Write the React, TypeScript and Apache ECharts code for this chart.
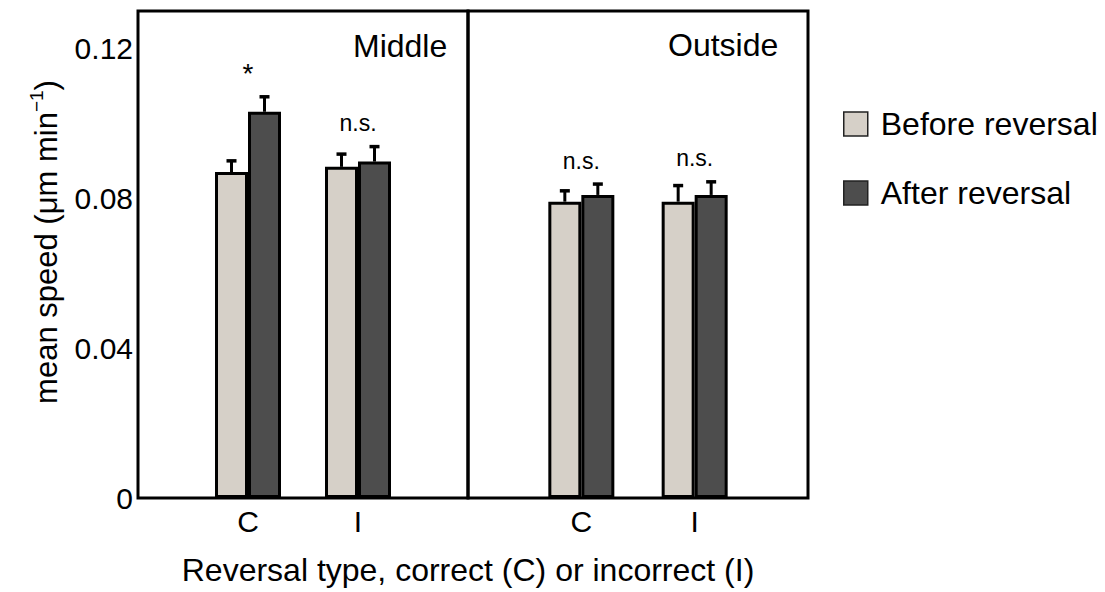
import React, { useEffect, useRef } from 'react';
import * as echarts from 'echarts';

const categories = ['', 'C', 'I', ''];
const panels = ['Middle', 'Outside'];
const seriesNames = ['Before reversal', 'After reversal'];
const yTicks = [0, 0.04, 0.08, 0.12];

const middleBefore = [0.087, 0.0884];
const middleBeforeErr = [0.003, 0.0034];
const middleAfter = [0.1031, 0.0898];
const middleAfterErr = [0.004, 0.004];
const outsideBefore = [0.0791, 0.0791];
const outsideBeforeErr = [0.0029, 0.0043];
const outsideAfter = [0.0809, 0.0809];
const outsideAfterErr = [0.0029, 0.0035];
const sigMiddle = ['*', 'n.s.'];
const sigOutside = ['n.s.', 'n.s.'];

const FONT = '"Liberation Sans", Arial, Helvetica, sans-serif';
const BEFORE_COLOR = '#d6d0c8';
const AFTER_COLOR = '#4d4d4d';

function padData(arr: number[]) {
  return [null, ...arr, null];
}

function errData(vals: number[], errs: number[]) {
  return vals.map((v, i) => [i + 1, v, errs[i]]);
}

function errSeries(name: string, gridIdx: number, vals: number[], errs: number[], offset: number) {
  return {
    type: 'custom',
    name: name + ' err',
    xAxisIndex: gridIdx,
    yAxisIndex: gridIdx,
    z: 5,
    silent: true,
    encode: { x: 0, y: 1 },
    data: errData(vals, errs),
    renderItem: (params: any, api: any) => {
      const x = api.value(0);
      const y = api.value(1);
      const e = api.value(2);
      const p0 = api.coord([x, y]);
      const p1 = api.coord([x, y + e]);
      const cx = p0[0] + offset;
      return {
        type: 'group',
        children: [
          { type: 'line', shape: { x1: cx, y1: p0[1], x2: cx, y2: p1[1] }, style: { stroke: '#000', lineWidth: 3 } },
          { type: 'line', shape: { x1: cx - 5, y1: p1[1], x2: cx + 5, y2: p1[1] }, style: { stroke: '#000', lineWidth: 3.5 } },
        ],
      };
    },
  };
}

function sigSeries(gridIdx: number, labels: string[], b: number[], be: number[], a: number[], ae: number[]) {
  const data = labels.map((_, i) => [i + 1, Math.max(b[i] + be[i], a[i] + ae[i])]);
  return {
    type: 'custom',
    name: 'sig' + gridIdx,
    xAxisIndex: gridIdx,
    yAxisIndex: gridIdx,
    z: 6,
    silent: true,
    encode: { x: 0, y: 1 },
    data,
    renderItem: (params: any, api: any) => {
      const p = api.coord([api.value(0), api.value(1)]);
      const label = labels[params.dataIndex];
      const star = label === '*';
      return {
        type: 'text',
        x: p[0],
        y: p[1] - (star ? 9 : 12),
        style: {
          text: label,
          fontSize: star ? 28 : 23,
          fontFamily: FONT,
          fill: '#000',
          align: 'center',
          verticalAlign: 'bottom',
        },
      };
    },
  };
}

function barSeries(name: string, gridIdx: number, vals: number[], color: string) {
  return {
    type: 'bar',
    name,
    xAxisIndex: gridIdx,
    yAxisIndex: gridIdx,
    barWidth: 33,
    barGap: '0%',
    data: padData(vals),
    itemStyle: { color, borderColor: '#000', borderWidth: 3 },
  };
}

export default function App() {
  const ref = useRef<HTMLDivElement>(null);
  useEffect(() => {
    if (!ref.current) return;
    const chart = echarts.init(ref.current, null, { renderer: 'svg' });
    const grids = [
      { left: 138, top: 11, width: 330, height: 487 },
      { left: 468, top: 11, width: 340, height: 487 },
    ];
    const option: any = {
      animation: false,
      backgroundColor: '#fff',
      textStyle: { fontFamily: FONT },
      grid: grids.map((g) => ({ ...g, show: true, borderColor: '#000', borderWidth: 3, backgroundColor: 'transparent' })),
      xAxis: grids.map((_, i) => ({
        type: 'category',
        gridIndex: i,
        data: categories,
        boundaryGap: false,
        axisLine: { show: false },
        axisTick: { show: false },
        splitLine: { show: false },
        axisLabel: { fontSize: 30, color: '#000', margin: 8, fontFamily: FONT, interval: 0 },
      })),
      yAxis: grids.map((_, i) => ({
        type: 'value',
        gridIndex: i,
        min: 0,
        max: 0.13,
        interval: 0.04,
        axisLine: { show: false },
        axisTick: { show: false },
        splitLine: { show: false },
        axisLabel: {
          show: i === 0,
          fontSize: 30,
          color: '#000',
          margin: 5,
          fontFamily: FONT,
          showMaxLabel: false,
          formatter: (v: number) => (yTicks.some((t) => Math.abs(t - v) < 1e-9) ? String(+v.toFixed(2)) : ''),
        },
      })),
      legend: {
        data: seriesNames,
        orient: 'vertical',
        left: 838,
        top: 103,
        itemWidth: 24,
        itemHeight: 24,
        itemGap: 37,
        icon: 'rect',
        itemStyle: { borderColor: '#222', borderWidth: 1.5 },
        textStyle: { fontSize: 32, color: '#000', fontFamily: FONT, padding: [0, 0, 0, 8] },
        selectedMode: false,
      },
      graphic: [
        {
          type: 'text',
          left: 353,
          top: 30,
          style: { text: panels[0], fontSize: 32, fill: '#000', fontFamily: FONT },
        },
        {
          type: 'text',
          left: 668,
          top: 29,
          style: { text: panels[1], fontSize: 32, fill: '#000', fontFamily: FONT },
        },
        {
          type: 'text',
          x: 468,
          y: 570,
          style: {
            text: 'Reversal type, correct (C) or incorrect (I)',
            fontSize: 32,
            fill: '#000',
            fontFamily: FONT,
            align: 'center',
            verticalAlign: 'middle',
          },
        },
        {
          type: 'text',
          x: 44,
          y: 242,
          rotation: Math.PI / 2,
          style: {
            text: '{m|mean speed (\u03bcm min}{sup|\u22121}{m|)}',
            fill: '#000',
            fontFamily: FONT,
            align: 'center',
            verticalAlign: 'middle',
            rich: {
              m: { fontSize: 31, verticalAlign: 'bottom', lineHeight: 35, fontFamily: FONT, fill: '#000' },
              sup: { fontSize: 19, verticalAlign: 'top', lineHeight: 35, fontFamily: FONT, fill: '#000' },
            },
          },
        },
      ],
      series: [
        barSeries(seriesNames[0], 0, middleBefore, BEFORE_COLOR),
        barSeries(seriesNames[1], 0, middleAfter, AFTER_COLOR),
        barSeries(seriesNames[0], 1, outsideBefore, BEFORE_COLOR),
        barSeries(seriesNames[1], 1, outsideAfter, AFTER_COLOR),
        errSeries(seriesNames[0], 0, middleBefore, middleBeforeErr, -16.5),
        errSeries(seriesNames[1], 0, middleAfter, middleAfterErr, 16.5),
        errSeries(seriesNames[0], 1, outsideBefore, outsideBeforeErr, -16.5),
        errSeries(seriesNames[1], 1, outsideAfter, outsideAfterErr, 16.5),
        sigSeries(0, sigMiddle, middleBefore, middleBeforeErr, middleAfter, middleAfterErr),
        sigSeries(1, sigOutside, outsideBefore, outsideBeforeErr, outsideAfter, outsideAfterErr),
      ],
    };
    chart.setOption(option);
    return () => chart.dispose();
  }, []);
  return <div ref={ref} style={{ position: 'fixed', left: 0, top: 0, width: 1105, height: 592 }} />;
}
